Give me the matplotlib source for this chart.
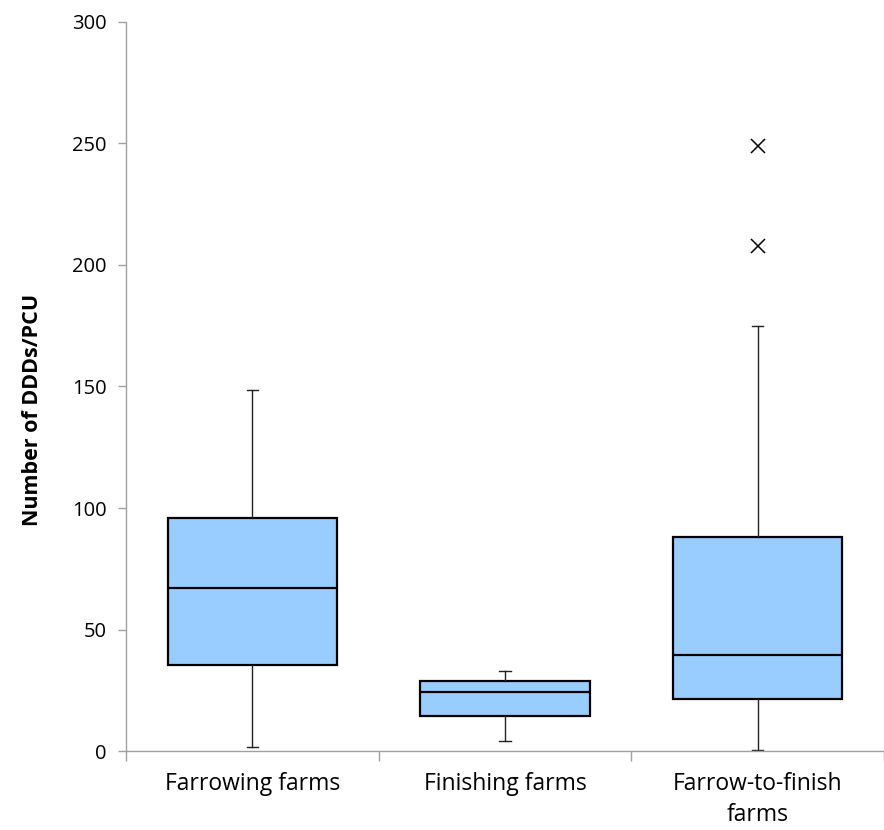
import matplotlib
matplotlib.use("Agg")
import matplotlib.pyplot as plt

# box plot summary values (Number of DDDs/PCU)
categories = ["Farrowing farms", "Finishing farms", "Farrow-to-finish\nfarms"]
whisker_low = [1.8, 4.2, 0.5]
q1 = [35.4, 14.3, 21.2]
median = [66.9, 24.4, 39.5]
q3 = [96.0, 28.7, 88.0]
whisker_high = [148.6, 33.0, 175.0]
outliers = [[], [], [249.0, 208.0]]

plt.rcParams['font.family'] = ['Open Sans', 'DejaVu Sans']

stats = []
for i, name in enumerate(categories):
    stats.append({
        "label": name,
        "whislo": whisker_low[i],
        "q1": q1[i],
        "med": median[i],
        "q3": q3[i],
        "whishi": whisker_high[i],
        "fliers": outliers[i],
    })

fig = plt.figure(figsize=(8.84, 8.3), dpi=100)
ax = fig.add_axes([126 / 884, 79 / 830, 758 / 884, 729 / 830])

ax.bxp(stats, widths=0.67, patch_artist=True, showfliers=True, capwidths=0.045,
       boxprops=dict(facecolor="#99CCFF", edgecolor="black", linewidth=1.6),
       medianprops=dict(color="black", linewidth=1.6),
       whiskerprops=dict(color="#222222", linewidth=1.0),
       capprops=dict(color="#222222", linewidth=1.0),
       flierprops=dict(marker="x", markeredgecolor="black", markersize=10,
                       markeredgewidth=1.1, linestyle="none"))

ax.set_xlim(0.5, 3.5)
ax.set_ylim(0, 300)
ax.set_yticks(range(0, 301, 50))
ax.tick_params(axis="y", direction="out", length=6, width=1, color="#A0A0A0",
               labelsize=14.5, pad=8)

ax.set_xticks([1, 2, 3])
ax.set_xticklabels(categories, fontsize=16.5, linespacing=1.4)
ax.set_xticks([0.5, 1.5, 2.5, 3.5], minor=True)
ax.tick_params(axis="x", which="major", length=0, pad=15)
ax.tick_params(axis="x", which="minor", direction="out", length=7, width=1,
               color="#A0A0A0")

for side in ["top", "right"]:
    ax.spines[side].set_visible(False)
for side in ["left", "bottom"]:
    ax.spines[side].set_color("#A0A0A0")
    ax.spines[side].set_linewidth(1.0)

ax.set_ylabel("Number of DDDs/PCU", fontsize=15.5, fontweight="bold")
ax.yaxis.set_label_coords(-0.110, 0.468)

fig.savefig("out.png", dpi=100)
